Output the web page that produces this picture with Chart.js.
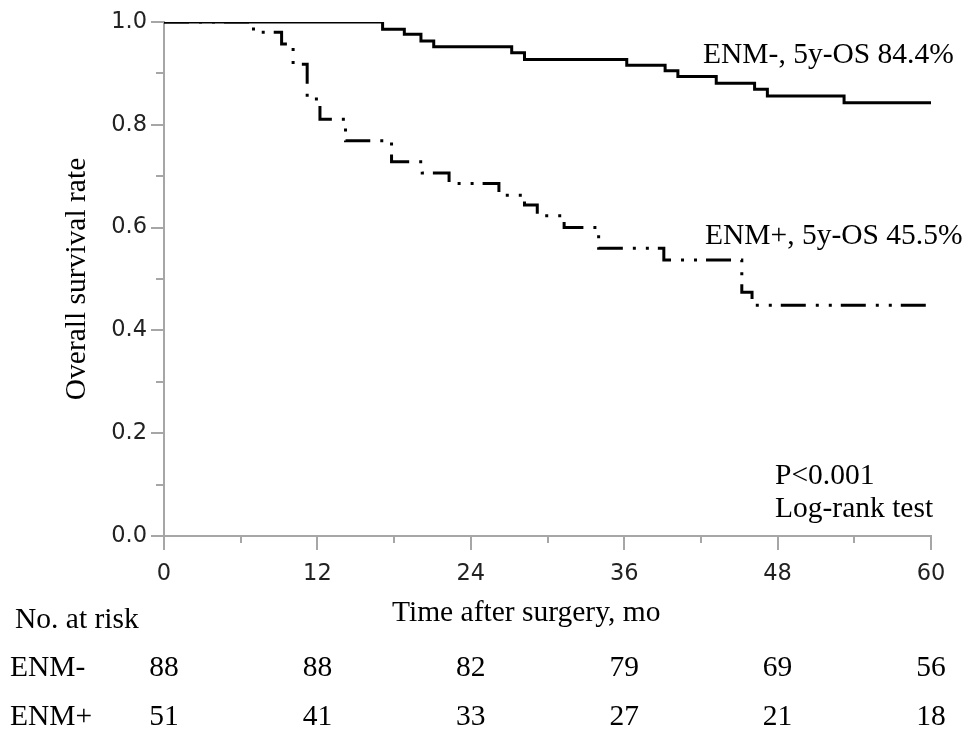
<!DOCTYPE html>
<html>
<head>
<meta charset="utf-8">
<script src="https://cdn.jsdelivr.net/npm/chart.js@4.4.1/dist/chart.umd.min.js"></script>
<style>
  html, body { margin: 0; padding: 0; background: #fff; }
  #wrap { width: 966px; height: 734px; }
</style>
</head>
<body>
<div id="wrap"><canvas id="kmChart" width="966" height="734"></canvas></div>
<script>
// Kaplan-Meier curves (months, survival rate)
const negTimes = [0, 17.1, 18.8, 20.1, 21.1, 27.2, 28.2, 36.2, 39.2, 40.2, 43.2, 46.2, 47.2, 53.2, 60];
const negSurv  = [1.0, 0.986, 0.976, 0.963, 0.952, 0.940, 0.927, 0.916, 0.905, 0.894, 0.881, 0.869, 0.856, 0.843, 0.843];

const posTimes = [0, 7.0, 9.2, 10.1, 11.2, 12.2, 14.2, 17.8, 20.2, 22.3, 26.2, 28.2, 29.2, 31.3, 34.0, 39.1, 45.2, 46.0, 60];
const posSurv  = [1.0, 0.980, 0.957, 0.918, 0.850, 0.811, 0.769, 0.728, 0.706, 0.686, 0.663, 0.644, 0.623, 0.600, 0.560, 0.537, 0.474, 0.449, 0.449];

// numbers at risk table
const riskTimes = [0, 12, 24, 36, 48, 60];
const riskNeg = [88, 88, 82, 79, 69, 56];
const riskPos = [51, 41, 33, 27, 21, 18];

const xTicks = [0, 12, 24, 36, 48, 60];
const yTicks = [0, 0.2, 0.4, 0.6, 0.8, 1.0];

const serif = "'Liberation Serif', 'Times New Roman', serif";
const textSize = 29.5;
const axisGray = '#a6a6a6';
const tickFont = { family: "'DejaVu Sans', Verdana, sans-serif", size: 22.5 };

function toPoints(ts, vs) {
  return ts.map((t, i) => ({ x: t, y: vs[i] }));
}

// keep the plot box where the original has it
function noEdgePadding(s) {
  s.paddingTop = 0;
  s.paddingBottom = 0;
  s.paddingLeft = 0;
  s.paddingRight = 0;
}

// minor/major tick marks and all the loose text
const extras = {
  id: 'extras',
  afterDraw(chart) {
    const { ctx, scales: { x, y } } = chart;
    ctx.save();
    ctx.strokeStyle = axisGray;
    ctx.lineWidth = 2;
    for (let v = 0; v <= 60; v += 6) {
      const px = Math.round(x.getPixelForValue(v));
      const len = xTicks.includes(v) ? 14 : 7;
      ctx.beginPath();
      ctx.moveTo(px, y.bottom);
      ctx.lineTo(px, y.bottom + len);
      ctx.stroke();
    }
    for (let i = 0; i <= 10; i++) {
      const py = Math.round(y.getPixelForValue(i / 10));
      const len = i % 2 === 0 ? 13 : 8;
      ctx.beginPath();
      ctx.moveTo(x.left - len, py);
      ctx.lineTo(x.left, py);
      ctx.stroke();
    }

    ctx.fillStyle = '#000';
    ctx.font = textSize + 'px ' + serif;
    ctx.textBaseline = 'alphabetic';
    ctx.textAlign = 'left';
    ctx.fillText('ENM-, 5y-OS 84.4%', 703, 63);
    ctx.fillText('ENM+, 5y-OS 45.5%', 705, 244);
    ctx.fillText('P<0.001', 775, 484);
    ctx.fillText('Log-rank test', 775, 517);
    ctx.fillText('Time after surgery, mo', 392, 621);
    ctx.fillText('No. at risk', 15, 628);
    ctx.fillText('ENM-', 10, 676);
    ctx.fillText('ENM+', 10, 725);

    ctx.textAlign = 'center';
    riskTimes.forEach((t, i) => {
      const px = x.getPixelForValue(t);
      ctx.fillText(String(riskNeg[i]), px, 676);
      ctx.fillText(String(riskPos[i]), px, 725);
    });
    ctx.restore();
  }
};

new Chart(document.getElementById('kmChart').getContext('2d'), {
  type: 'line',
  data: {
    datasets: [
      {
        label: 'ENM+',
        data: toPoints(posTimes, posSurv),
        stepped: 'before',
        borderColor: '#000',
        borderWidth: 3,
        borderDash: [25, 10, 3, 10, 3, 9],
        borderCapStyle: 'butt',
        pointRadius: 0,
        fill: false
      },
      {
        label: 'ENM-',
        data: toPoints(negTimes, negSurv),
        stepped: 'before',
        borderColor: '#000',
        borderWidth: 3,
        pointRadius: 0,
        fill: false
      }
    ]
  },
  options: {
    responsive: false,
    animation: false,
    devicePixelRatio: 1,
    layout: { padding: { left: 0, top: 22, right: 35, bottom: 0 } },
    plugins: {
      legend: { display: false },
      tooltip: { enabled: false }
    },
    scales: {
      x: {
        type: 'linear',
        min: 0,
        max: 60,
        afterFit: s => { s.height = 198; noEdgePadding(s); },
        afterBuildTicks: s => { s.ticks = xTicks.map(v => ({ value: v })); },
        ticks: {
          autoSkip: false,
          maxRotation: 0,
          padding: 25,
          color: '#222',
          font: tickFont,
          callback: v => String(v)
        },
        grid: { drawOnChartArea: false, drawTicks: false },
        border: { color: axisGray, width: 2 }
      },
      y: {
        min: 0,
        max: 1,
        afterFit: s => { s.width = 164; noEdgePadding(s); },
        afterBuildTicks: s => { s.ticks = yTicks.map(v => ({ value: v })); },
        ticks: {
          padding: 17,
          color: '#222',
          font: tickFont,
          callback: v => v.toFixed(1)
        },
        grid: { drawOnChartArea: false, drawTicks: false },
        border: { color: axisGray, width: 2 },
        title: {
          display: true,
          text: 'Overall survival rate',
          color: '#000',
          font: { family: serif, size: textSize },
          padding: { top: 60, bottom: 0 }
        }
      }
    }
  },
  plugins: [extras]
});
</script>
</body>
</html>
